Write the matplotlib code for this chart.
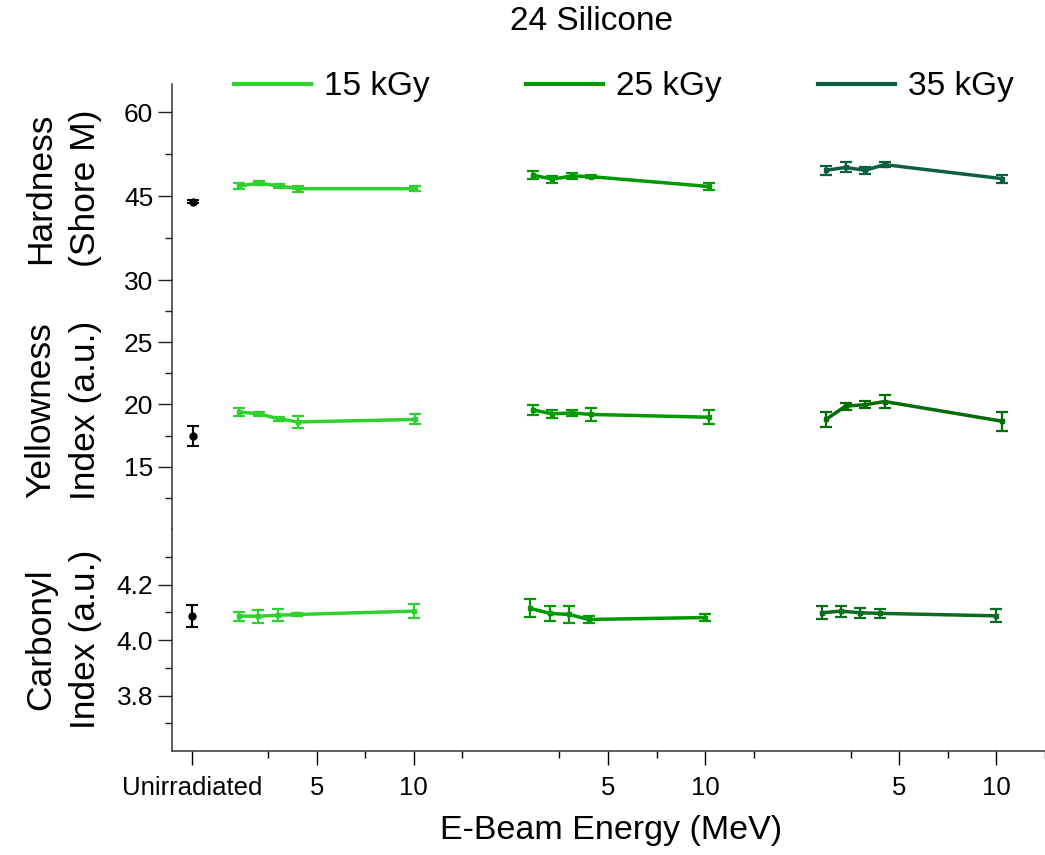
import numpy as np
import matplotlib.pyplot as plt
from matplotlib.lines import Line2D

plt.rcParams['font.family'] = ['Liberation Sans', 'DejaVu Sans']

# E-beam energies (MeV) measured at each dose
energy = [1, 2, 3, 4, 10]
doses = ['15 kGy', '25 kGy', '35 kGy']
seg_offset = 15          # each dose block is drawn 15 MeV further right
unirr_x = -1.4           # slot for the unirradiated reference

# Hardness (Shore M)
hard_unirr, hard_unirr_err = 44.0, 0.3
hard_15 = [46.8, 47.3, 46.8, 46.3, 46.3]
hard_15_err = [0.6, 0.3, 0.3, 0.5, 0.4]
hard_25 = [48.75, 48.0, 48.6, 48.45, 46.7]
hard_25_err = [0.7, 0.6, 0.5, 0.3, 0.7]
hard_35 = [49.6, 50.1, 49.6, 50.6, 48.1]
hard_35_err = [0.8, 0.9, 0.6, 0.4, 0.7]

# Yellowness index (a.u.)
yel_unirr, yel_unirr_err = 17.5, 0.8
yel_15 = [19.4, 19.25, 18.85, 18.6, 18.8]
yel_15_err = [0.3, 0.15, 0.15, 0.45, 0.4]
yel_25 = [19.57, 19.25, 19.33, 19.2, 18.98]
yel_25_err = [0.38, 0.3, 0.25, 0.5, 0.55]
yel_35 = [18.8, 19.87, 19.98, 20.24, 18.66]
yel_35_err = [0.6, 0.28, 0.3, 0.5, 0.77]

# Carbonyl index (a.u.)
carb_unirr, carb_unirr_err = 4.087, 0.04
carb_15 = [4.086, 4.086, 4.089, 4.092, 4.104]
carb_15_err = [0.016, 0.023, 0.022, 0.007, 0.025]
carb_25 = [4.114, 4.096, 4.092, 4.074, 4.081]
carb_25_err = [0.032, 0.026, 0.03, 0.013, 0.012]
carb_35 = [4.098, 4.104, 4.098, 4.096, 4.087]
carb_35_err = [0.023, 0.02, 0.017, 0.016, 0.023]

c15, c25 = '#2fd12f', '#009a00'
panels = [
    dict(label='Hardness\n(Shore M)', ylim=(30, 65), major=[30, 45, 60], minor=[37.5, 52.5],
         fmt='{:.0f}', unirr=(hard_unirr, hard_unirr_err),
         series=[(hard_15, hard_15_err), (hard_25, hard_25_err), (hard_35, hard_35_err)],
         colors=[c15, c25, '#0e5e40'], rect=(84, 280), label_y=188),
    dict(label='Yellowness\nIndex (a.u.)', ylim=(10, 30), major=[15, 20, 25], minor=[12.5, 17.5, 22.5, 27.5],
         fmt='{:.0f}', unirr=(yel_unirr, yel_unirr_err),
         series=[(yel_15, yel_15_err), (yel_25, yel_25_err), (yel_35, yel_35_err)],
         colors=[c15, c25, '#046c04'], rect=(280, 529), label_y=410),
    dict(label='Carbonyl\nIndex (a.u.)', ylim=(3.6, 4.4), major=[3.8, 4.0, 4.2], minor=[3.7, 3.9, 4.1, 4.3],
         fmt='{:.1f}', unirr=(carb_unirr, carb_unirr_err),
         series=[(carb_15, carb_15_err), (carb_25, carb_25_err), (carb_35, carb_35_err)],
         colors=[c15, c25, '#0b6b1e'], rect=(529, 751), label_y=639),
]

W, H = 1045, 855
fig = plt.figure(figsize=(W / 100, H / 100), dpi=100)
left_px = 172

axes = []
for i, p in enumerate(panels):
    top, bot = p['rect']
    ax = fig.add_axes([left_px / W, 1 - bot / H, 1 - left_px / W, (bot - top) / H])
    axes.append(ax)

    ax.errorbar([unirr_x], [p['unirr'][0]], yerr=[p['unirr'][1]], color='black', marker='o',
                ms=5, capsize=4, elinewidth=1.5, capthick=1.5, ls='none')
    for k, ((vals, errs), col) in enumerate(zip(p['series'], p['colors'])):
        xs = np.array(energy) + seg_offset * k
        ax.errorbar(xs, vals, yerr=errs, color=col, lw=2.5, marker='s', ms=2.5,
                    capsize=4, elinewidth=1.6, capthick=1.6)

    ax.set_xlim(-2.45, 42.2)
    ax.set_ylim(*p['ylim'])
    ax.set_yticks(p['major'])
    ax.set_yticklabels([p['fmt'].format(v) for v in p['major']])
    ax.set_yticks(p['minor'], minor=True)
    ax.tick_params(axis='y', which='major', direction='out', length=10, width=1, labelsize=19, colors='#222222')
    ax.tick_params(axis='y', which='minor', direction='out', length=5, width=1, colors='#222222')
    ax.tick_params(axis='y', labelcolor='black')
    for s in ['top', 'right']:
        ax.spines[s].set_visible(False)
    ax.spines['left'].set_linewidth(1.1)
    ax.spines['left'].set_color('#333333')
    ax.patch.set_alpha(0)

    fig.text(63 / W, 1 - p['label_y'] / H, p['label'], rotation=90, ha='center', va='center',
             fontsize=25.5, linespacing=1.45, multialignment='center')

    if i < 2:
        ax.spines['bottom'].set_visible(False)
        ax.set_xticks([])
    else:
        ax.spines['bottom'].set_linewidth(1.1)
        ax.spines['bottom'].set_color('#333333')
        xt = [unirr_x] + [e + seg_offset * k for k in range(3) for e in (5, 10)]
        ax.set_xticks(xt)
        ax.set_xticklabels(['Unirradiated'] + ['5', '10'] * 3)
        ax.set_xticks([m + seg_offset * k for k in range(3) for m in (2.5, 7.5, 12.5)], minor=True)
        ax.tick_params(axis='x', which='major', direction='out', length=10, width=1, labelsize=18.5, pad=8)
        ax.tick_params(axis='x', which='minor', direction='out', length=5, width=1)

fig.text(611 / W, 1 - 830 / H, 'E-Beam Energy (MeV)', ha='center', va='center', fontsize=24.5)
fig.text(591 / W, 1 - 22 / H, '24 Silicone', ha='center', va='center', fontsize=24)

handles = [Line2D([], [], color=c, lw=3) for c in (c15, c25, '#0e5e40')]
fig.legend(handles, doses, ncol=3, loc='center', bbox_to_anchor=(624 / W, 1 - 87 / H),
           frameon=False, fontsize=24, handlelength=2.3, handletextpad=0.4, columnspacing=2.9)

fig.savefig('out.png', dpi=100)
